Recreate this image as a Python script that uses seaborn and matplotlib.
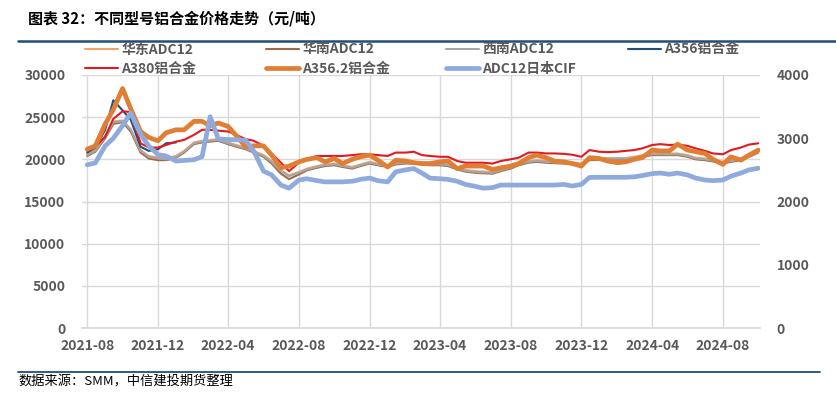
import numpy as np
import pandas as pd
import matplotlib
matplotlib.use("Agg")
import matplotlib.pyplot as plt
import matplotlib.dates as mdates
from matplotlib.lines import Line2D
import seaborn as sns

sns.set_theme(style="white")
plt.rcParams['font.family'] = ['Noto Sans CJK SC', 'DejaVu Sans']
plt.rcParams['axes.unicode_minus'] = False

# ---- data (semi-monthly, 2021-08-01 .. 2024-10-01) ----
dates = pd.date_range('2021-08-01', periods=77, freq='SMS')

huadong_adc12 = [20600, 21100, 22800, 24500, 24600, 23600, 21100, 20400, 20200, 20100,
                 20400, 21000, 22000, 22200, 22300, 22400, 22000, 21700, 21400, 21000,
                 20500, 19800, 18700, 18100, 18500, 18900, 19200, 19400, 19500, 19300,
                 19100, 19400, 19700, 19500, 19300, 19600, 19700, 19700, 19600, 19500,
                 19500, 19400, 19000, 18750, 18600, 18550, 18500, 18800, 19100, 19500,
                 19800, 19900, 19800, 19750, 19700, 19650, 19500, 20100, 20150, 20150,
                 20150, 20150, 20300, 20500, 20700, 20700, 20700, 20700, 20500, 20200,
                 20100, 19950, 19700, 19900, 20100, 20500, 21000]

huanan_adc12 = [20400, 20900, 22500, 24200, 24400, 23300, 20800, 20100, 19900, 19900,
                20200, 20800, 21800, 22000, 22100, 22200, 21800, 21500, 21200, 20800,
                20300, 19500, 18300, 17650, 18200, 18700, 19000, 19200, 19300, 19100,
                18900, 19200, 19500, 19300, 19100, 19400, 19500, 19500, 19400, 19300,
                19300, 19200, 18800, 18550, 18400, 18350, 18300, 18600, 18900, 19300,
                19600, 19700, 19600, 19550, 19500, 19450, 19300, 19900, 19950, 19950,
                19950, 19950, 20100, 20300, 20500, 20500, 20500, 20500, 20300, 20000,
                19900, 19750, 19500, 19700, 19900, 20300, 20800]

xinan_adc12 = [20500, 21000, 22700, 24400, 24500, 23500, 21000, 20300, 20100, 20000,
               20300, 20900, 21900, 22100, 22200, 22300, 21900, 21600, 21300, 20900,
               20400, 19700, 18600, 18000, 18400, 18800, 19100, 19300, 19400, 19200,
               19000, 19300, 19600, 19400, 19200, 19500, 19600, 19600, 19500, 19400,
               19400, 19300, 18900, 18650, 18500, 18450, 18400, 18700, 19000, 19400,
               19700, 19800, 19700, 19650, 19600, 19550, 19400, 20000, 20080, 20080,
               20080, 20080, 20200, 20400, 20600, 20600, 20600, 20600, 20400, 20100,
               20000, 19850, 19600, 19800, 20000, 20400, 20900]

a356 = [20800, 21400, 23500, 27000, 25800, 24700, 21500, 21000, 21200, 21900,
        22000] + [np.nan] * 66

a380 = [21000, 21500, 22700, 24800, 25700, 25600, 21900, 21400, 21400, 21700,
        22100, 22300, 22900, 23500, 23500, 23400, 23300, 22900, 22400, 22200,
        21600, 20700, 19600, 18600, 19600, 20000, 20400, 20400, 20400, 20400,
        20500, 20600, 20600, 20500, 20400, 20800, 20800, 20900, 20500, 20400,
        20300, 20300, 19800, 19600, 19600, 19600, 19500, 19800, 20000, 20200,
        20800, 20800, 20700, 20700, 20650, 20550, 20300, 21100, 20900, 20850,
        20900, 21000, 21100, 21300, 21700, 21800, 21700, 21750, 21600, 21300,
        21000, 20700, 20600, 21100, 21400, 21750, 21900]

a356_2 = [21200, 21600, 24200, 25900, 28400, 26000, 23300, 22600, 22200, 23150,
          23500, 23500, 24500, 24500, 24000, 24300, 23900, 22800, 21500, 21600,
          21600, 20500, 19000, 19200, 19700, 20000, 20200, 19700, 20100, 19500,
          20000, 20300, 20500, 19900, 19100, 19900, 19800, 19600, 19500, 19500,
          19700, 19800, 18900, 19200, 19200, 19200, 18800, 19000, 19200, 19500,
          20200, 20500, 20200, 19800, 19700, 19500, 19200, 20200, 20100, 19800,
          19600, 19700, 20000, 20200, 21100, 21000, 21000, 21800, 21100, 20900,
          20700, 20000, 19400, 20300, 19900, 20500, 21100]

adc12_japan_cif = [2580, 2610, 2880, 3000, 3200, 3400, 3060, 2880, 2740, 2720,
                   2640, 2650, 2660, 2710, 3340, 2990, 2980, 2975, 2970, 2800,
                   2480, 2420, 2260, 2210, 2340, 2360, 2330, 2310, 2310, 2310,
                   2320, 2350, 2370, 2330, 2310, 2470, 2500, 2520, 2450, 2370,
                   2360, 2350, 2320, 2270, 2240, 2210, 2220, 2260, 2260, 2260,
                   2260, 2260, 2260, 2260, 2270, 2245, 2270, 2380, 2383, 2383,
                   2383, 2383, 2390, 2410, 2440, 2450, 2430, 2450, 2420, 2370,
                   2340, 2330, 2340, 2400, 2450, 2500, 2525]

labels = ['华东ADC12', '华南ADC12', '西南ADC12', 'A356铝合金',
          'A380铝合金', 'A356.2铝合金', 'ADC12日本CIF']
left_series = [huadong_adc12, huanan_adc12, xinan_adc12, a356, a380, a356_2]
colors = ['#F6A06C', '#9C6A48', '#A6A6A6', '#1F4E79', '#E3191F', '#E07F33', '#8FAADC']
widths = [1.5, 1.5, 1.5, 1.5, 1.5, 3.4, 3.4]

tick_dates = pd.date_range('2021-08-01', '2024-08-01', freq='4MS')
left_ticks = [0, 5000, 10000, 15000, 20000, 25000, 30000]
right_ticks = [0, 1000, 2000, 3000, 4000]

# ---- figure ----
fig = plt.figure(figsize=(8.36, 3.96), dpi=100)
ax = fig.add_axes([82 / 836, 1 - 328 / 396, (760 - 82) / 836, (328 - 75) / 396])

for vals, c, w in zip(left_series, colors[:6], widths[:6]):
    df = pd.DataFrame({'date': dates, 'value': vals})
    sns.lineplot(data=df, x='date', y='value', ax=ax, color=c, lw=w, legend=False)

ax2 = ax.twinx()
df_cif = pd.DataFrame({'date': dates, 'value': adc12_japan_cif})
sns.lineplot(data=df_cif, x='date', y='value', ax=ax2, color=colors[6], lw=widths[6],
             legend=False)

grid_c = '#D9D9D9'
text_c = '#595959'
ax.set_xlim(pd.Timestamp('2021-07-23'), pd.Timestamp('2024-10-04'))
ax.set_ylim(0, 30000)
ax2.set_ylim(0, 4000)
ax.set_yticks(left_ticks)
ax2.set_yticks(right_ticks)
ax.set_xticks(tick_dates)
ax.xaxis.set_major_formatter(mdates.DateFormatter('%Y-%m'))
ax.grid(True, axis='both', color=grid_c, lw=1.0)
ax.set_axisbelow(True)
for a in (ax, ax2):
    a.set_xlabel('')
    a.set_ylabel('')
    for s in a.spines.values():
        s.set_visible(False)
ax.spines['bottom'].set_visible(True)
ax.spines['bottom'].set_color(grid_c)
ax.tick_params(axis='x', which='major', length=5, color=grid_c, direction='out',
               labelsize=10, labelcolor=text_c, pad=3)
ax.tick_params(axis='y', length=0, labelsize=10, labelcolor=text_c, pad=12)
ax2.tick_params(axis='y', length=0, labelsize=10, labelcolor=text_c, pad=12)
for t in ax.get_xticklabels() + ax.get_yticklabels() + ax2.get_yticklabels():
    t.set_fontweight('bold')

# legend: four columns placed at the reference positions
handles = [Line2D([], [], color=c, lw=w) for c, w in zip(colors, widths)]
columns = [[0, 4], [1, 5], [2, 6], [3]]
col_x = [85, 266, 446, 628]
for idxs, cx in zip(columns, col_x):
    lg = fig.legend([handles[i] for i in idxs], [labels[i] for i in idxs],
                    loc='upper left', bbox_to_anchor=(cx / 836, 1 - 42.5 / 396),
                    frameon=False, fontsize=10, handlelength=2.4,
                    handletextpad=0.2, labelspacing=0.38, borderaxespad=0,
                    borderpad=0.0)
    for t in lg.get_texts():
        t.set_color(text_c)
        t.set_fontweight('bold')

# title, separators, source
fig.text(28 / 836, 1 - 18 / 396, '图表 32：不同型号铝合金价格走势（元/吨）',
         fontsize=10.8, fontweight='bold', color='black', va='center', ha='left')
fig.add_artist(Line2D([18 / 836, 1.0], [1 - 41 / 396, 1 - 41 / 396],
                      transform=fig.transFigure, color='#1F4E79', lw=1.8))
fig.add_artist(Line2D([18 / 836, 820 / 836], [1 - 372 / 396, 1 - 372 / 396],
                      transform=fig.transFigure, color='#1F4E79', lw=1.3))
fig.text(18 / 836, 1 - 382 / 396, '数据来源：SMM，中信建投期货整理',
         fontsize=9.5, style='italic', color='black', va='center', ha='left')

fig.savefig('out.png', dpi=100)
